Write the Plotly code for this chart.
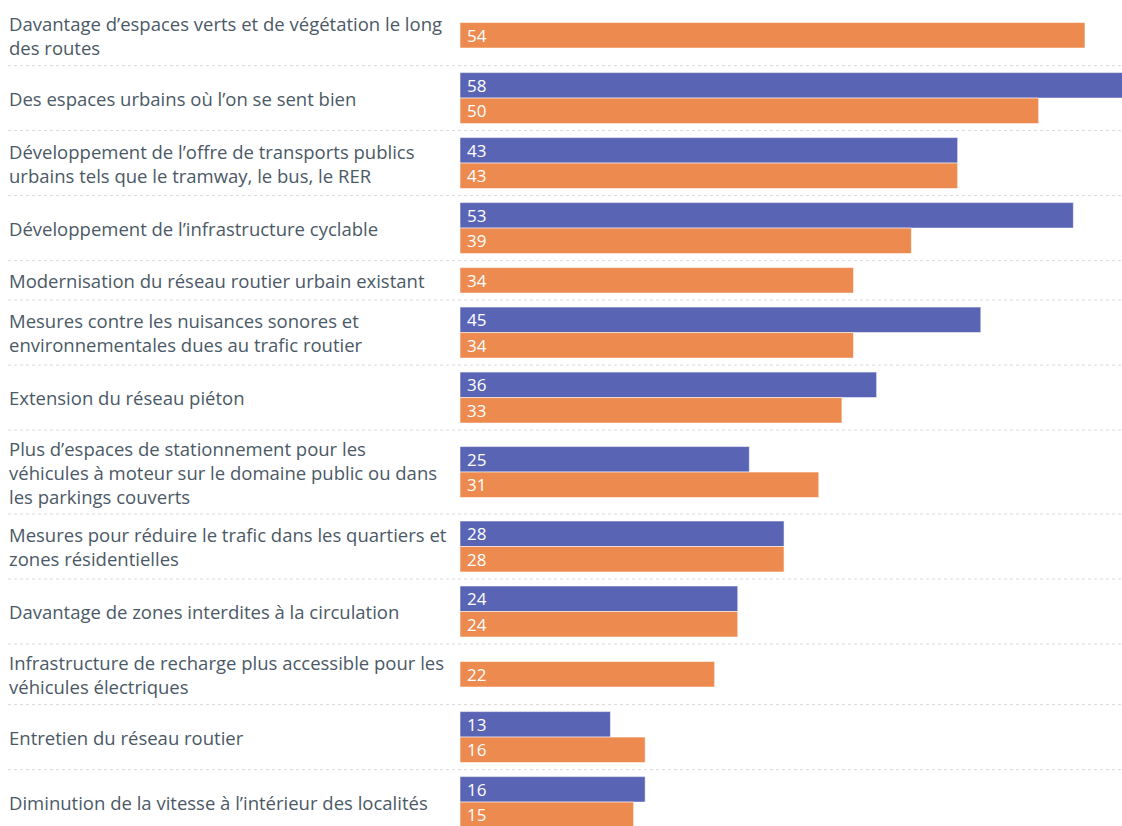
import plotly.graph_objects as go

labels = [
    "Davantage d’espaces verts et de végétation le long<br>des routes",
    "Des espaces urbains où l’on se sent bien",
    "Développement de l’offre de transports publics<br>urbains tels que le tramway, le bus, le RER",
    "Développement de l’infrastructure cyclable",
    "Modernisation du réseau routier urbain existant",
    "Mesures contre les nuisances sonores et<br>environnementales dues au trafic routier",
    "Extension du réseau piéton",
    "Plus d’espaces de stationnement pour les<br>véhicules à moteur sur le domaine public ou dans<br>les parkings couverts",
    "Mesures pour réduire le trafic dans les quartiers et<br>zones résidentielles",
    "Davantage de zones interdites à la circulation",
    "Infrastructure de recharge plus accessible pour les<br>véhicules électriques",
    "Entretien du réseau routier",
    "Diminution de la vitesse à l’intérieur des localités",
]
blue_values = [None, 58, 43, 53, None, 45, 36, 25, 28, 24, None, 13, 16]
orange_values = [54, 50, 43, 39, 34, 34, 33, 31, 28, 24, 22, 16, 15]

BLUE = "#5a64b4"
ORANGE = "#ed8a4f"
TEXT = "#4b5966"
FONT = "Open Sans"

W, H = 1122, 826
BAR_H = 25.5
LINE_H = 23.3
PAD = 14
TOP = 5

# compute row layout from data (pixel units on the y axis)
blue_y, orange_y, centers, seps = [], [], [], []
top = TOP
for lab, b, o in zip(labels, blue_values, orange_values):
    n = (b is not None) + (o is not None)
    lines = lab.count("<br>") + 1
    h = max(n * BAR_H, lines * LINE_H) + PAD
    c = top + h / 2
    centers.append(c)
    if n == 2:
        blue_y.append(c - BAR_H / 2)
        orange_y.append(c + BAR_H / 2)
    else:
        blue_y.append(c)
        orange_y.append(c)
    top += h
    seps.append(top)

fig = go.Figure()
bx = [v for v in blue_values if v is not None]
by = [y for v, y in zip(blue_values, blue_y) if v is not None]
ox = [v for v in orange_values if v is not None]
oy = [y for v, y in zip(orange_values, orange_y) if v is not None]

fig.add_trace(go.Bar(x=bx, y=by, orientation="h", width=BAR_H, base=0,
                     marker=dict(color=BLUE, line=dict(color="rgba(255,255,255,0.55)", width=1)),
                     name="Série 1", hoverinfo="x"))
fig.add_trace(go.Bar(x=ox, y=oy, orientation="h", width=BAR_H, base=0,
                     marker=dict(color=ORANGE, line=dict(color="rgba(255,255,255,0.55)", width=1)),
                     name="Série 2", hoverinfo="x"))

annotations = []
for v, y in list(zip(bx, by)) + list(zip(ox, oy)):
    annotations.append(dict(x=0, y=y, xref="x", yref="y", text=str(v), showarrow=False,
                            xanchor="left", yanchor="middle", xshift=5,
                            font=dict(family=FONT, size=17, color="white")))
for lab, c in zip(labels, centers):
    annotations.append(dict(x=7 / W, y=c, xref="paper", yref="y", text=lab, showarrow=False,
                            xanchor="left", yanchor="middle", align="left",
                            font=dict(family=FONT, size=18.5, color=TEXT)))

shapes = []
for s in seps[:-1]:
    shapes.append(dict(type="line", xref="paper", yref="y", x0=8 / W, x1=1, y0=s, y1=s,
                       line=dict(color="#dadada", width=1, dash="dot"), layer="below"))

fig.update_layout(
    width=W, height=H,
    margin=dict(l=0, r=0, t=0, b=0),
    paper_bgcolor="white", plot_bgcolor="white",
    barmode="overlay", showlegend=False,
    xaxis=dict(domain=[460 / W, 1], range=[0, 57.2], visible=False, fixedrange=True),
    yaxis=dict(range=[H, 0], visible=False, fixedrange=True),
    annotations=annotations, shapes=shapes,
    font=dict(family=FONT, color=TEXT),
)
fig.write_html("out.html")
